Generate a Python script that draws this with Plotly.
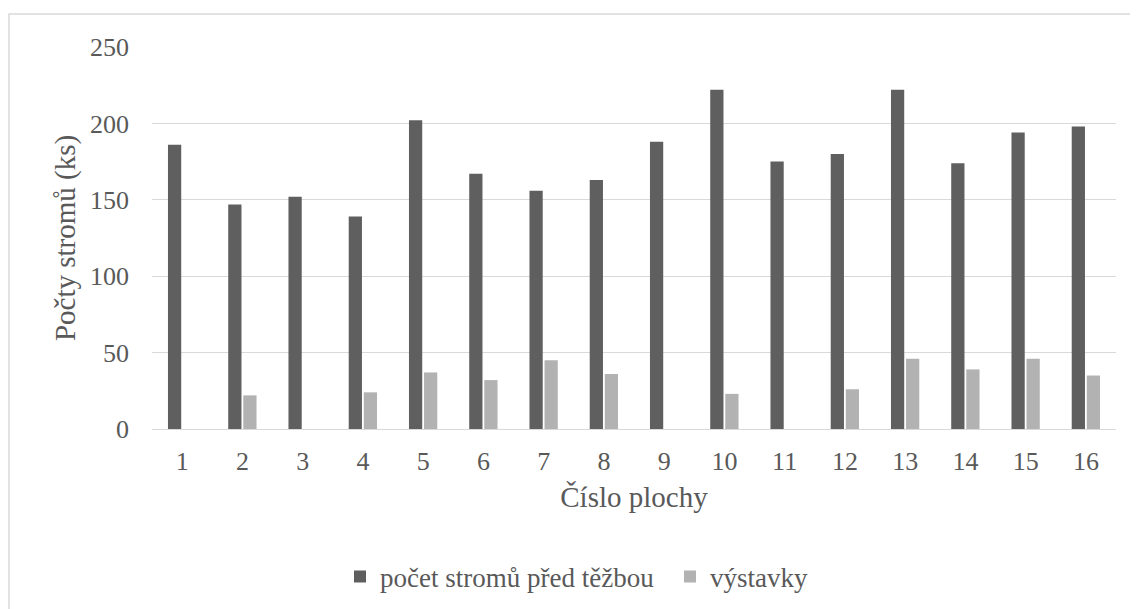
import plotly.graph_objects as go

categories = [str(i) for i in range(1, 17)]
pred_tezbou = [186, 147, 152, 139, 202, 167, 156, 163, 188, 222, 175, 180, 222, 174, 194, 198]
vystavky = [0, 22, 0, 24, 37, 32, 45, 36, 0, 23, 0, 26, 46, 39, 46, 35]
series_names = ["počet stromů před těžbou", "výstavky"]
colors = ["#5f5f5f", "#b2b2b2"]
y_ticks = [0, 50, 100, 150, 200, 250]

FONT = "Liberation Serif, Times New Roman, serif"
TXT = "#595959"

fig = go.Figure()
fig.add_trace(go.Bar(x=categories, y=pred_tezbou, name=series_names[0],
                     marker=dict(color=colors[0], line=dict(width=0))))
fig.add_trace(go.Bar(x=categories, y=[v if v else None for v in vystavky], name=series_names[1],
                     marker=dict(color=colors[1], line=dict(width=0))))

# page body has an 8px margin; figure is placed at (8, 8)
OFF = 8
W, H = 1138 - OFF, 609 - OFF
L, T = 152 - OFF, 47 - OFF
R = W - (1116 - OFF)
B = H - (429 - OFF)
pw, ph = W - L - R, H - T - B

fig.update_layout(
    width=W, height=H,
    margin=dict(l=L, r=R, t=T, b=B, autoexpand=False),
    paper_bgcolor="white", plot_bgcolor="white",
    barmode="group", bargap=0.5, bargroupgap=0.12,
    font=dict(family=FONT, color=TXT, size=26),
    showlegend=True,
    legend=dict(orientation="h", x=(340 - 152) / pw, xanchor="left",
                y=(429 - 577) / ph, yanchor="middle",
                font=dict(family=FONT, size=27, color=TXT),
                traceorder="normal", itemwidth=30, entrywidth=285),
    xaxis=dict(type="category", showgrid=False, showline=False, zeroline=False,
               ticks="", tickfont=dict(family=FONT, size=26, color=TXT),
               ticklabelstandoff=14,
               title=dict(text="Číslo plochy", font=dict(family=FONT, size=29, color=TXT),
                          standoff=11)),
    yaxis=dict(range=[0, 250], tickvals=y_ticks, showgrid=True, gridcolor="#d9d9d9",
               gridwidth=1.3, zeroline=True, zerolinecolor="#d9d9d9", zerolinewidth=1.3,
               showline=False, ticks="", tickfont=dict(family=FONT, size=26, color=TXT),
               ticklabelstandoff=22,
               title=dict(text="Počty stromů (ks)", font=dict(family=FONT, size=29, color=TXT),
                          standoff=5)),
)

fig.add_shape(type="rect", xref="paper", yref="paper",
              x0=(OFF + 1 - 152) / pw, x1=1.2, y0=-0.8, y1=(429 - 14) / ph,
              line=dict(color="#d9d9d9", width=1.5), fillcolor="rgba(0,0,0,0)", layer="below")

fig.write_html("out.html")
